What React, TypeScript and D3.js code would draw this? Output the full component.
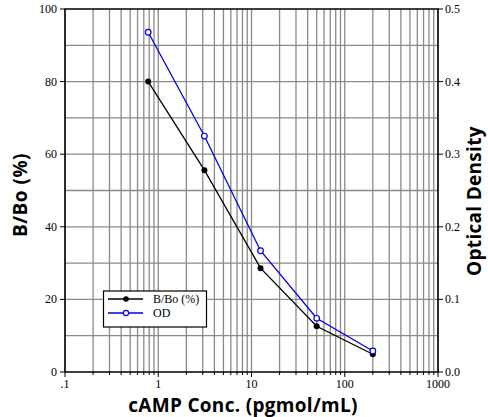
import React from 'react'
import * as d3 from 'd3'

// concentrations in pg/mL (4-fold dilution series)
const conc = [0.78, 3.125, 12.5, 50, 200]
const bbo = [80, 55.6, 28.6, 12.6, 4.9]
const od = [0.468, 0.325, 0.167, 0.074, 0.029]

const xTicks = [0.1, 1, 10, 100, 1000]
const xTickLabels = ['.1', '1', '10', '100', '1000']
const leftTicks = [0, 20, 40, 60, 80, 100]
const rightTicks = [0, 0.1, 0.2, 0.3, 0.4, 0.5]

const W = 488
const H = 417
const m = { left: 65, right: 50, top: 9, bottom: 45 }

const App: React.FC = () => {
  const x = d3.scaleLog([0.1, 1000], [m.left, W - m.right])
  const yL = d3.scaleLinear([0, 100], [H - m.bottom, m.top])
  const yR = d3.scaleLinear([0, 0.5], [H - m.bottom, m.top])

  const minorX: number[] = []
  for (let p = -1; p < 3; p++) {
    for (let k = 2; k <= 9; k++) minorX.push(k * Math.pow(10, p))
  }
  const gridY = d3.range(10, 100, 10)

  const lineL = d3.line<number>().x((_, i) => x(conc[i])).y((d) => yL(d))
  const lineR = d3.line<number>().x((_, i) => x(conc[i])).y((d) => yR(d))

  const x0 = m.left
  const x1 = W - m.right
  const y0 = H - m.bottom
  const y1 = m.top
  const serif = '"Liberation Serif", "Times New Roman", serif'
  const sans = '"Open Sans", "DejaVu Sans", sans-serif'

  return (
    <svg width={W} height={H} style={{ position: 'absolute', left: 0, top: 0, background: '#fff' }}>
      {/* grid */}
      <g stroke="#8a8a8a" strokeWidth={1.3}>
        {[...minorX, ...xTicks].map((v) => (
          <line key={'gx' + v} x1={x(v)} x2={x(v)} y1={y1} y2={y0} />
        ))}
        {gridY.map((v) => (
          <line key={'gy' + v} x1={x0} x2={x1} y1={yL(v)} y2={yL(v)} />
        ))}
      </g>
      {/* frame */}
      <rect x={x0} y={y1} width={x1 - x0} height={y0 - y1} fill="none" stroke="#000" strokeWidth={1.5} />

      {/* ticks */}
      <g stroke="#000" strokeWidth={1}>
        {xTicks.map((v) => (
          <line key={'bt' + v} x1={x(v)} x2={x(v)} y1={y0} y2={y0 + 5} />
        ))}
        {minorX.map((v) => (
          <line key={'bm' + v} x1={x(v)} x2={x(v)} y1={y0} y2={y0 + 3} />
        ))}
        {leftTicks.map((v) => (
          <line key={'lt' + v} x1={x0 - 5} x2={x0} y1={yL(v)} y2={yL(v)} />
        ))}
        {rightTicks.map((v) => (
          <line key={'rt' + v} x1={x1} x2={x1 + 5} y1={yR(v)} y2={yR(v)} />
        ))}
      </g>
      <g fontFamily={serif} fontSize={12} fill="#000">
        {xTicks.map((v, i) => (
          <text key={'bl' + v} x={x(v)} y={y0 + 16} textAnchor="middle">{xTickLabels[i]}</text>
        ))}
        {leftTicks.map((v) => (
          <text key={'ll' + v} x={x0 - 8} y={yL(v) + 4} textAnchor="end">{v}</text>
        ))}
        {rightTicks.map((v) => (
          <text key={'rl' + v} x={x1 + 7} y={yR(v) + 4} textAnchor="start">{v.toFixed(1)}</text>
        ))}
      </g>

      {/* series */}
      <path d={lineL(bbo) ?? ''} fill="none" stroke="#000" strokeWidth={1.3} />
      <path d={lineR(od) ?? ''} fill="none" stroke="#0000e0" strokeWidth={1.3} />
      {bbo.map((v, i) => (
        <circle key={'pb' + i} cx={x(conc[i])} cy={yL(v)} r={3} fill="#000" />
      ))}
      {od.map((v, i) => (
        <circle key={'po' + i} cx={x(conc[i])} cy={yR(v)} r={2.8} fill="#fff" stroke="#0000e0" strokeWidth={1.2} />
      ))}

      {/* legend */}
      <g>
        <rect x={103.5} y={291} width={103} height={36} fill="#fff" stroke="#000" strokeWidth={1.2} />
        <line x1={108} x2={143} y1={299} y2={299} stroke="#000" strokeWidth={1.3} />
        <circle cx={126} cy={299} r={2.8} fill="#000" />
        <line x1={108} x2={143} y1={313} y2={313} stroke="#0000e0" strokeWidth={1.3} />
        <circle cx={126} cy={313} r={2.6} fill="#fff" stroke="#0000e0" strokeWidth={1.2} />
        <text x={153} y={303} fontFamily={serif} fontSize={12}>B/Bo (%)</text>
        <text x={153} y={317} fontFamily={serif} fontSize={12}>OD</text>
      </g>

      {/* axis titles */}
      <text x={243} y={412} textAnchor="middle" fontFamily={sans} fontWeight={700} fontSize={19} letterSpacing={0.3}>
        cAMP Conc. (pgmol/mL)
      </text>
      <text transform="translate(27,195) rotate(-90)" textAnchor="middle" fontFamily={sans} fontWeight={700} fontSize={19} letterSpacing={0.5}>
        B/Bo (%)
      </text>
      <text transform="translate(481,201) rotate(-90)" textAnchor="middle" fontFamily={sans} fontWeight={700} fontSize={19} letterSpacing={0.3}>
        Optical Density
      </text>
    </svg>
  )
}

export default App
